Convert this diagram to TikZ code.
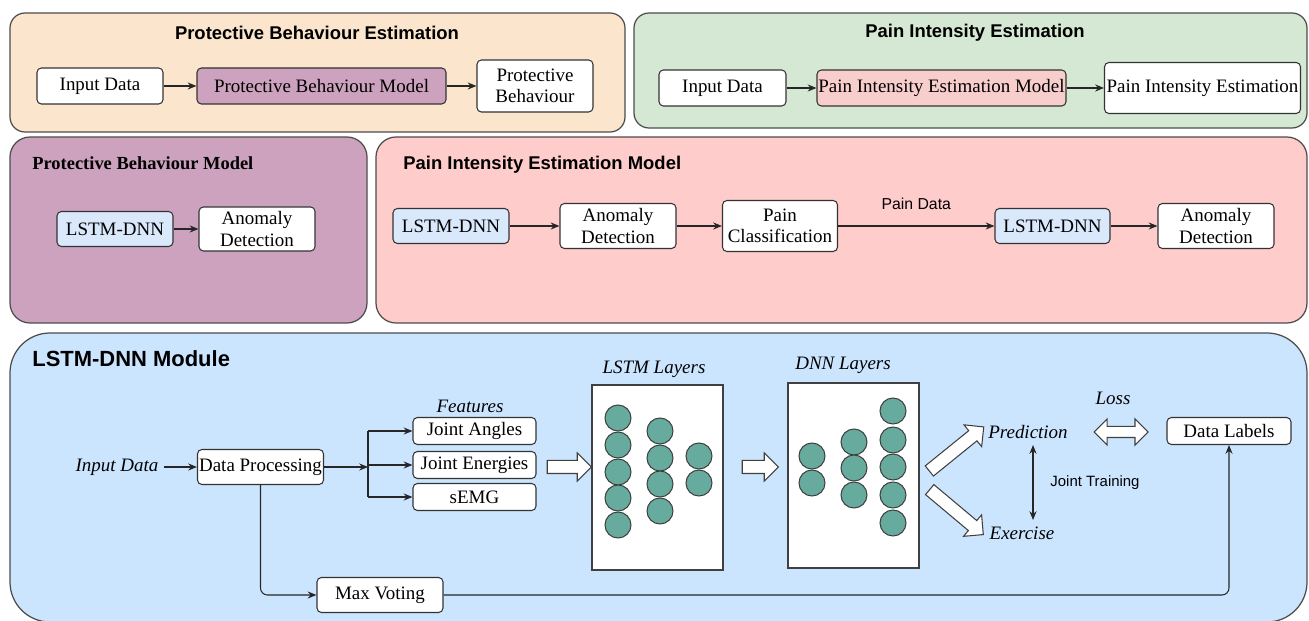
\documentclass[tikz,border=0pt]{standalone}
\usepackage{fontspec}
\setmainfont{Liberation Serif}
\setsansfont{Liberation Sans}
\usetikzlibrary{arrows.meta,shapes.arrows}
\definecolor{peach}{HTML}{FCE5CD}
\definecolor{mint}{HTML}{D5E8D4}
\definecolor{mauve}{HTML}{CDA2BE}
\definecolor{rose}{HTML}{FFCCCC}
\definecolor{rosebox}{HTML}{F8CECC}
\definecolor{skyp}{HTML}{CCE5FF}
\definecolor{skyb}{HTML}{DAE8FC}
\definecolor{neur}{HTML}{67AB9F}
\begin{document}
\begin{tikzpicture}[x=0.02cm,y=-0.02cm,
  panel/.style={draw=black!70, line width=0.7pt},
  box/.style={draw=black!80, line width=0.6pt, rounded corners=2.5pt, fill=white,
    font=\fontsize{10.8}{12}\selectfont, align=center, inner sep=0pt},
  bw/.style={minimum width=#1*0.02cm},
  bh/.style={minimum height=#1*0.02cm},
  arr/.style={-{Stealth[length=5pt,width=4pt]}, line width=0.6pt, draw=black!85},
  darr/.style={{Stealth[length=5pt,width=4pt]}-{Stealth[length=5pt,width=4pt]}, line width=0.6pt, draw=black!85},
  ttl/.style={font=\sffamily\bfseries\fontsize{10.5}{12}\selectfont, inner sep=0pt},
  sttl/.style={font=\bfseries\fontsize{10.5}{12}\selectfont, inner sep=0pt},
  lbl/.style={font=\itshape\fontsize{10.8}{12}\selectfont, inner sep=0pt},
  slbl/.style={font=\sffamily\fontsize{8.5}{10}\selectfont, inner sep=0pt},
  neuron/.style={circle, draw=black!75, fill=neur, minimum size=26*0.02cm, inner sep=0pt, line width=0.6pt},
  layerbox/.style={draw=black!75, fill=white, line width=0.6pt, inner sep=0pt},
  harrow/.style={single arrow, draw=black!75, fill=white, line width=0.6pt, inner xsep=0pt,
    inner ysep=6*0.02cm, single arrow head extend=7.5*0.02cm},
  hdarrow/.style={double arrow, draw=black!75, fill=white, line width=0.6pt, inner xsep=0pt,
    inner ysep=5*0.02cm, double arrow head extend=7.5*0.02cm}
]
\useasboundingbox (0,0) rectangle (1309,621);
\fill[white] (0,0) rectangle (1309,621);

% ---------- panels ----------
\draw[panel, fill=peach, rounded corners=15*0.02cm] (10,13) rectangle (625,132);
\draw[panel, fill=mint, rounded corners=15*0.02cm] (634,13) rectangle (1307,128);
\draw[panel, fill=mauve, rounded corners=20*0.02cm] (10,137) rectangle (367,323);
\draw[panel, fill=rose, rounded corners=20*0.02cm] (376,137) rectangle (1307,323);
\draw[panel, fill=skyp, rounded corners=40*0.02cm] (10,333) rectangle (1307,622);

% ---------- top left ----------
\node[ttl] (t1) at (317,33) {Protective Behaviour Estimation};
\node[box, bw=126, bh=36] (a1) at (100,86) {Input Data};
\node[box, bw=249, bh=36, fill=mauve] (a2) at (321.5,86) {Protective Behaviour Model};
\node[box, bw=116, bh=52] (a3) at (535,86) {Protective\\Behaviour};
\draw[arr] (a1) -- (a2);
\draw[arr] (a2) -- (a3);

% ---------- top right ----------
\node[ttl] (t2) at (975,33) {Pain Intensity Estimation};
\node[box, bw=127, bh=36] (b1) at (722.5,88) {Input Data};
\node[box, bw=249, bh=36, fill=rosebox] (b2) at (941.5,88) {Pain Intensity Estimation Model};
\node[box, bw=196, bh=51] (b3) at (1202.5,88) {Pain Intensity Estimation};
\draw[arr] (b1) -- (b2);
\draw[arr] (b2) -- (b3);

% ---------- middle left ----------
\node[sttl, anchor=west] (t3) at (32,163) {Protective Behaviour Model};
\node[box, bw=116, bh=35, fill=skyb] (c1) at (115,229) {LSTM-DNN};
\node[box, bw=116, bh=44] (c2) at (257,229) {Anomaly\\Detection};
\draw[arr] (c1) -- (c2);

% ---------- middle right ----------
\node[ttl, anchor=west] (t4) at (403,165) {Pain Intensity Estimation Model};
\node[box, bw=116, bh=35, fill=skyb] (d1) at (451,226) {LSTM-DNN};
\node[box, bw=116, bh=45] (d2) at (618,226) {Anomaly\\Detection};
\node[box, bw=115, bh=51] (d3) at (780,226) {Pain\\Classification};
\node[box, bw=115, bh=35, fill=skyb] (d4) at (1052.5,226) {LSTM-DNN};
\node[box, bw=116, bh=45] (d5) at (1216,226) {Anomaly\\Detection};
\draw[arr] (d1) -- (d2);
\draw[arr] (d2) -- (d3);
\draw[arr] (d3) -- node[slbl, above=16*0.02cm, font=\sffamily\fontsize{9}{10}\selectfont] (pd) {Pain Data} (d4);
\draw[arr] (d4) -- (d5);

% ---------- bottom ----------
\node[ttl, anchor=west, font=\sffamily\bfseries\fontsize{12.5}{14}\selectfont] (t5) at (32,359) {LSTM-DNN Module};
\node[lbl, inner xsep=3pt] (in) at (117,467) {Input Data};
\node[box, bw=126, bh=35] (dp) at (260.5,467) {Data Processing};
\draw[arr] (in) -- (dp);

\node[lbl] (feat) at (470,406) {Features};
\node[box, bw=123, bh=27] (ja) at (474.5,431) {Joint Angles};
\node[box, bw=123, bh=27] (je) at (474.5,465) {Joint Energies};
\node[box, bw=123, bh=27] (se) at (474.5,497) {sEMG};
\coordinate (br) at (368,467);
\draw[arr] (dp) -- (br);
\draw[line width=0.6pt, draw=black!85] (br |- ja.west) -- (br |- se.west);
\draw[arr] (br |- ja.west) -- (ja.west);
\draw[arr] (br |- je.west) -- (je.west);
\draw[arr] (br |- se.west) -- (se.west);

\node[harrow, minimum height=44*0.02cm] (h1) at (566,467) {};

% LSTM layers
\node[lbl] (ll) at (654,369) {LSTM Layers};
\node[layerbox, minimum width=131*0.02cm, minimum height=185*0.02cm] (lb) at (657.5,477.5) {};
\foreach \yy [count=\i] in {418,445,472,498,525}
  \node[neuron] (l1\i) at (618,\yy) {};
\foreach \yy [count=\i] in {431,458,484,511}
  \node[neuron] (l2\i) at (660,\yy) {};
\foreach \yy [count=\i] in {456,483}
  \node[neuron] (l3\i) at (699,\yy) {};

\node[harrow, minimum height=36*0.02cm] (h2) at (757,467) {};

% DNN layers
\node[lbl] (dl) at (843,365) {DNN Layers};
\node[layerbox, minimum width=131*0.02cm, minimum height=185*0.02cm] (db) at (853.5,475.5) {};
\foreach \yy [count=\i] in {456,483}
  \node[neuron] (n1\i) at (812,\yy) {};
\foreach \yy [count=\i] in {442,468,495}
  \node[neuron] (n2\i) at (854,\yy) {};
\foreach \yy [count=\i] in {411,440,467,495,523}
  \node[neuron] (n3\i) at (893,\yy) {};

\node[harrow, minimum height=70*0.02cm, rotate=39] (h3) at (954,451) {};
\node[harrow, minimum height=70*0.02cm, rotate=-40] (h4) at (954,510) {};

\node[lbl] (pred) at (1028,432) {Prediction};
\node[lbl] (exer) at (1022,533) {Exercise};
\coordinate (jt1) at (1033,445);
\coordinate (jt2) at (1033,520);
\draw[darr] (jt1) -- (jt2);
\node[slbl] (jtl) at (1095,483) {Joint Training};

\node[lbl] (loss) at (1113,398) {Loss};
\node[hdarrow, minimum height=54*0.02cm] (h5) at (1121,432) {};
\node[box, bw=124, bh=27] (dlab) at (1229,431) {Data Labels};

\node[box, bw=126, bh=35] (mv) at (380,595) {Max Voting};
\draw[arr, rounded corners=4pt] (dp.south) |- (mv.west);
\draw[arr, rounded corners=4pt] (mv.east) -| (dlab.south);
\end{tikzpicture}
\end{document}
